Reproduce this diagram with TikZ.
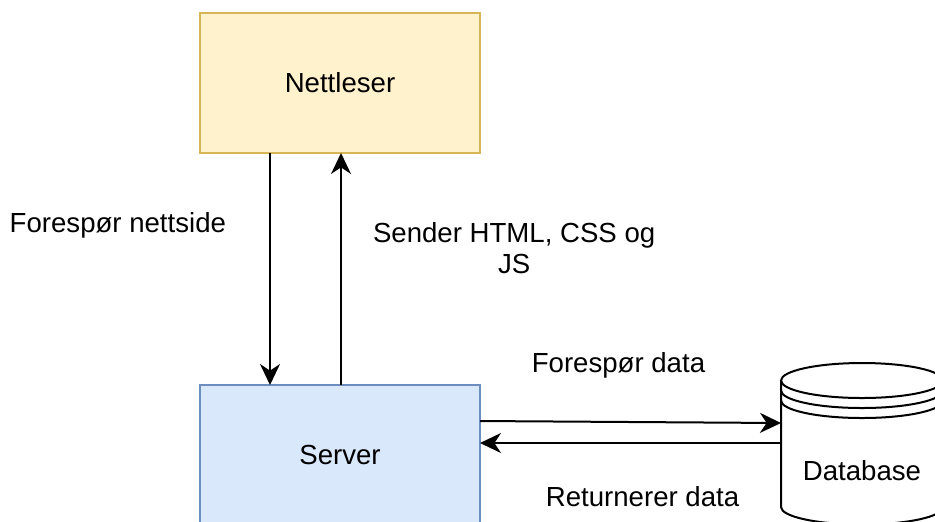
\documentclass[tikz,border=0pt]{standalone}
\usepackage{fontspec}
\setmainfont{Liberation Sans}
\usetikzlibrary{positioning,arrows.meta}

\definecolor{nettfill}{HTML}{FFF2CC}
\definecolor{nettdraw}{HTML}{D6B656}
\definecolor{srvfill}{HTML}{DAE8FC}
\definecolor{srvdraw}{HTML}{6C8EBF}

\tikzset{
  box/.style={rectangle, minimum width=140pt, minimum height=70pt, inner sep=0pt, outer sep=0pt, line width=1pt},
  store/.style={rectangle, minimum width=81pt, minimum height=53pt, inner sep=0pt, outer sep=0pt},
  lbl/.style={inner sep=0pt, align=center},
  dbline/.style={line width=1pt},
}

\begin{document}
\begin{tikzpicture}[x=0.5pt, y=-0.5pt, node distance=116pt, font=\fontsize{13.8}{15.5}\selectfont]
    \useasboundingbox (0,0) rectangle (935,521);
    \clip (0,0) rectangle (935,521);
    \fill[white] (0,0) rectangle (935,521);

    \node [box, draw=nettdraw, fill=nettfill] (nett) at (340,83) {Nettleser};
    \node [box, draw=srvdraw, fill=srvfill] [below=of nett] (srv) {Server};
    \node [store] [right=150.5pt of srv, yshift=-8pt] (db) {Database};

    % datastore outline round the db node
    \draw[dbline] ([yshift=18.75pt]db.north west) -- ([yshift=8.5pt]db.south west)
        arc[start angle=180, end angle=360, x radius=40.5pt, y radius=8.75pt]
        -- ([yshift=18.75pt]db.north east);
    \draw[dbline] ([yshift=18.75pt]db.north) ellipse [x radius=40.5pt, y radius=8.75pt];
    \draw[dbline] ([yshift=13.75pt]db.north west) arc[start angle=180, end angle=360, x radius=40.5pt, y radius=8.75pt];
    \draw[dbline] ([yshift=8.75pt]db.north west) arc[start angle=180, end angle=360, x radius=40.5pt, y radius=8.75pt];

    \path[-{Stealth[length=10.5pt, width=10pt, inset=3.3pt]}, line width=1pt]
    ([xshift=-35pt]nett.south) edge node[lbl, pos=0.31, left=21.5pt] {Forespør nettside} ([xshift=-35pt]srv.north)
    ([xshift=0.5pt]srv.north) edge node[lbl, pos=0.59, right=15.5pt] {Sender HTML, CSS og\\JS} ([xshift=0.5pt]nett.south)
    ([yshift=17pt]srv.east) edge node[lbl, pos=0.46, above=21.4pt] {Forespør data} ([yshift=24pt]db.west)
    ([yshift=14pt]db.west) edge node[lbl, pos=0.46, below=21pt] {Returnerer data} ([yshift=6pt]srv.east);

\end{tikzpicture}
\end{document}
